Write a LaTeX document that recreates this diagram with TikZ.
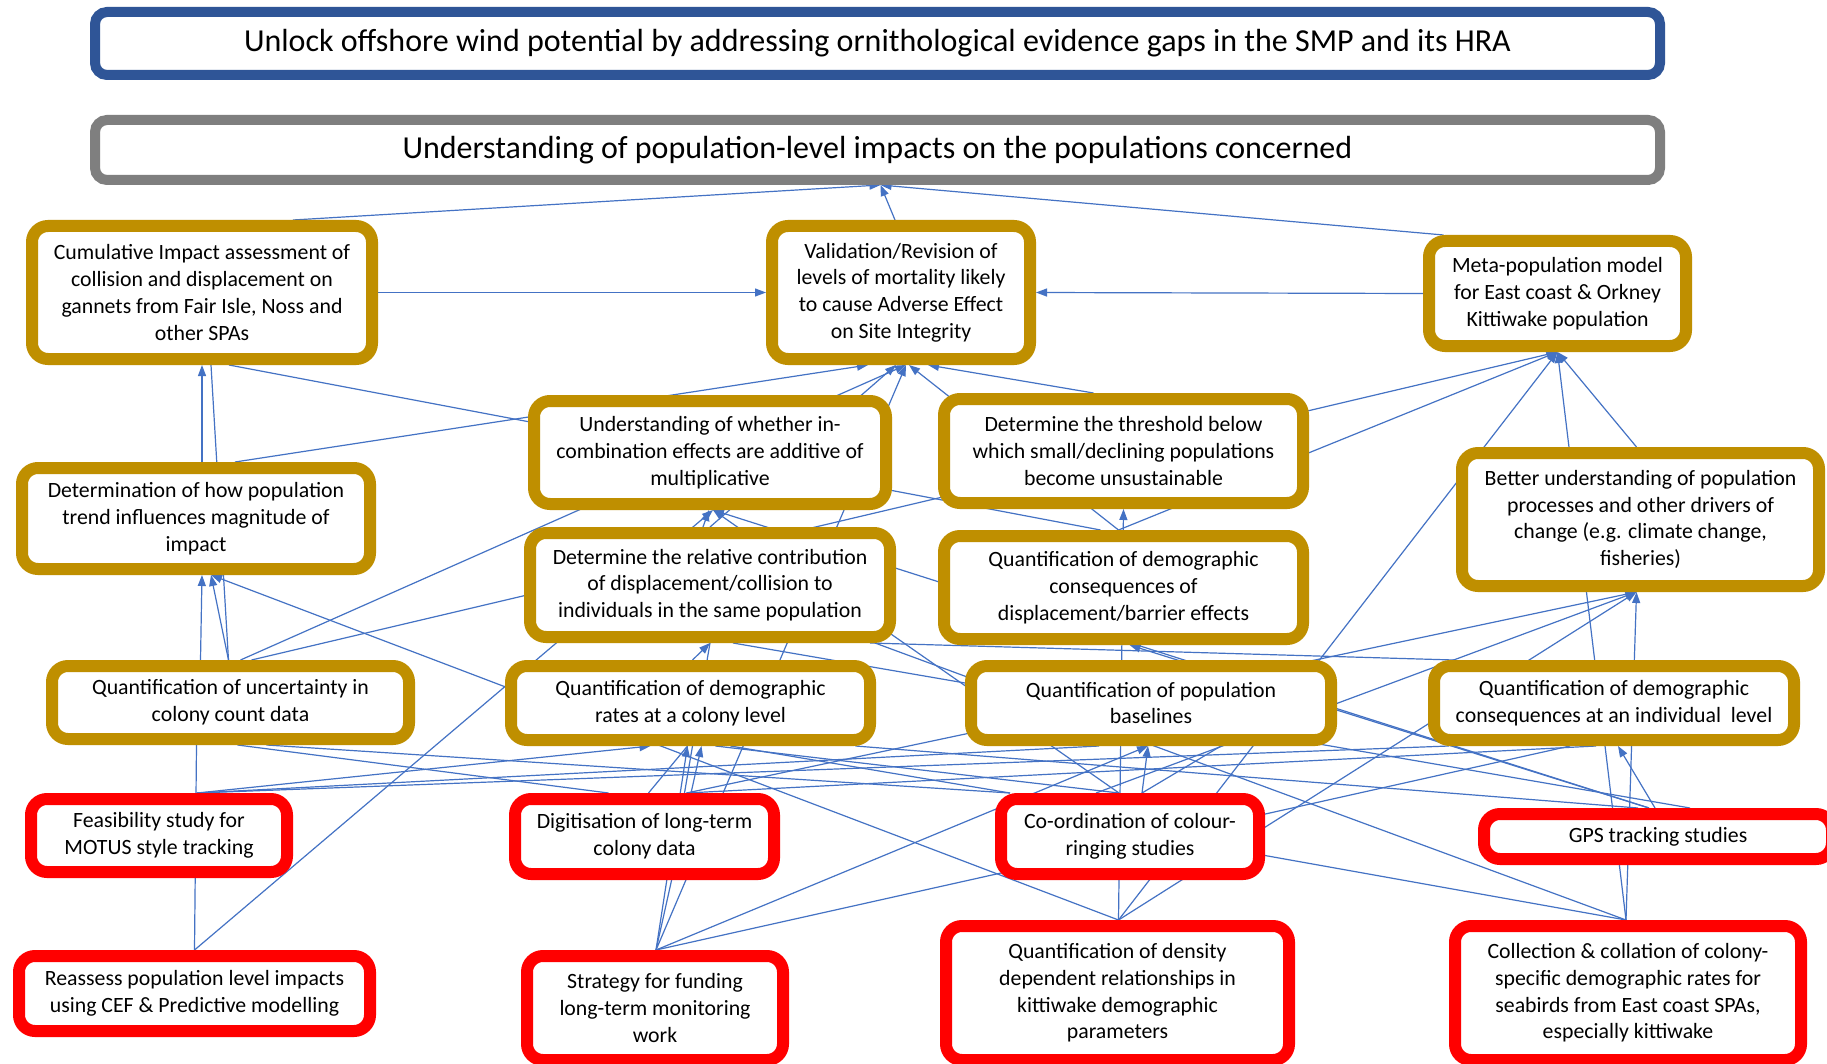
\documentclass[tikz,border=0pt]{standalone}
\usepackage{fontspec}
\setmainfont{Carlito}
\usetikzlibrary{arrows.meta,backgrounds}
\definecolor{goldc}{HTML}{BF8F00}
\definecolor{redc}{HTML}{FF0000}
\definecolor{bluec}{HTML}{2F5597}
\definecolor{grayc}{HTML}{7F7F7F}
\definecolor{linec}{HTML}{4472C4}
\begin{document}
\begin{tikzpicture}[x=1pt,y=-1pt,
  box/.style={draw, rounded corners=16pt, fill=white, align=center, inner sep=0pt, text=black, font=\fontsize{21.8}{26.7}\selectfont},
  goldbox/.style={box, draw=goldc, line width=12pt},
  redbox/.style={box, draw=redc, line width=12pt},
  titlebox/.style={box, line width=10pt, rounded corners=12pt, font=\fontsize{32}{36}\selectfont},
  con/.style={draw=linec, line width=1.2pt},
  arr/.style={con, -{Triangle[length=11pt,width=8pt]}},
]
\useasboundingbox (0,0) rectangle (1827,1064);
\clip (0,0) rectangle (1827,1064);

% titles
\node[titlebox, draw=bluec, minimum width=1565pt, minimum height=63pt] (top) at (877.5,43.5)
  {Unlock offshore wind potential by addressing ornithological evidence gaps in the SMP and its HRA};
\node[titlebox, draw=grayc, minimum width=1565pt, minimum height=60pt] (gray) at (877.5,150)
  {Understanding of population-level impacts on the populations concerned};

% gold boxes
\node[goldbox, minimum width=340pt, minimum height=133pt] (cia) at (202,292.5)
  {Cumulative Impact assessment of\\collision and displacement on\\gannets from Fair Isle, Noss and\\other SPAs};
\node[goldbox, minimum width=258pt, minimum height=133pt] (val) at (901,292.5)
  {Validation/Revision of\\levels of mortality likely\\to cause Adverse Effect\\on Site Integrity};
\node[goldbox, minimum width=257pt, minimum height=105pt] (meta) at (1557.5,293.5)
  {Meta-population model\\for East coast \& Orkney\\Kittiwake population};
\node[goldbox, minimum width=352pt, minimum height=103pt] (incomb) at (710,452.5)
  {Understanding of whether in-\\combination effects are additive of\\multiplicative};
\node[goldbox, minimum width=359pt, minimum height=104pt] (thresh) at (1123.5,451)
  {Determine the threshold below\\which small/declining populations\\become unsustainable};
\node[goldbox, minimum width=348pt, minimum height=101pt] (trend) at (196,518.5)
  {Determination of how population\\trend influences magnitude of\\impact};
\node[goldbox, minimum width=357pt, minimum height=133pt] (better) at (1640.5,519.5)
  {Better understanding of population\\processes and other drivers of\\change (e.g. climate change,\\fisheries)};
\node[goldbox, minimum width=360pt, minimum height=104pt] (relcon) at (710,585)
  {Determine the relative contribution\\of displacement/collision to\\individuals in the same population};
\node[goldbox, minimum width=359pt, minimum height=103pt] (displ) at (1123.5,587.5)
  {Quantification of demographic\\consequences of\\displacement/barrier effects};
\node[goldbox, minimum width=357pt, minimum height=73pt] (uncert) at (230.5,702.5)
  {Quantification of uncertainty in\\colony count data};
\node[goldbox, minimum width=359pt, minimum height=74pt] (demrate) at (690.5,703)
  {Quantification of demographic\\rates at a colony level};
\node[goldbox, minimum width=360pt, minimum height=74pt] (base) at (1151,703)
  {Quantification of population\\baselines};
\node[goldbox, minimum width=360pt, minimum height=74pt] (indiv) at (1614,703)
  {Quantification of demographic\\consequences at an individual~ level};

% red boxes
\node[redbox, minimum width=256pt, minimum height=73pt] (motus) at (159,835.5)
  {Feasibility study for\\MOTUS style tracking};
\node[redbox, minimum width=259pt, minimum height=75pt] (digit) at (644.5,836.5)
  {Digitisation of long-term\\colony data};
\node[redbox, minimum width=258pt, minimum height=75pt] (ring) at (1130,836.5)
  {Co-ordination of colour-\\ringing studies};
\node[redbox, minimum width=348pt, minimum height=45pt] (gps) at (1658,836.5)
  {GPS tracking studies};
\node[redbox, minimum width=351pt, minimum height=75pt] (reass) at (194.5,993.5)
  {Reassess population level impacts\\using CEF \& Predictive modelling};
\node[redbox, minimum width=256pt, minimum height=104pt] (strat) at (655,1008)
  {Strategy for funding\\long-term monitoring\\work};
\node[redbox, minimum width=343pt, minimum height=134pt] (dens) at (1117.5,993)
  {Quantification of density\\dependent relationships in\\kittiwake demographic\\parameters};
\node[redbox, minimum width=346pt, minimum height=134pt] (coll) at (1628,993)
  {Collection \& collation of colony-\\specific demographic rates for\\seabirds from East coast SPAs,\\especially kittiwake};

% arrow targets and shared source points
\coordinate (grayB) at ([xshift=3pt]gray.south);
\coordinate (valB1) at ([xshift=-5pt]val.south);
\coordinate (valB2) at ([xshift=5pt]val.south);
\coordinate (metaB) at (meta.south);
\coordinate (incB) at ([xshift=3pt]incomb.south);
\coordinate (threshB) at (thresh.south);
\coordinate (displB) at ([xshift=6pt]displ.south);
\coordinate (relB) at (relcon.south);
\coordinate (demB) at ([xshift=-3pt]demrate.south);
\coordinate (baseB) at ([xshift=-3pt]base.south);
\coordinate (betterB) at ([xshift=-4pt]better.south);
\coordinate (indivB) at ([xshift=4pt]indiv.south);
\coordinate (trendB) at ([xshift=6pt]trend.south);
\coordinate (densT) at ([xshift=1pt]dens.north);
\coordinate (collT) at ([xshift=-2pt]coll.north);
\coordinate (stratT) at ([xshift=1pt]strat.north);
\coordinate (ringT) at ([xshift=-11pt]ring.north);

\begin{scope}[on background layer]
\fill[white] (0,0) rectangle (1827,1064);
\draw[arr] ([xshift=91pt]cia.north) -- (grayB);
\draw[arr] ([xshift=-6pt]val.north) -- (grayB);
\draw[arr] ([xshift=-114pt]meta.north) -- (grayB);
\draw[arr] (cia.east) -- (val.west);
\draw[arr] (meta.west) -- (val.east);
\draw[arr] ([xshift=39pt]trend.north) -- ([xshift=-33pt]val.south);
\draw[arr] ([xshift=10pt]uncert.north) -- (valB2);
\draw[arr] (relcon.north) -- (valB1);
\draw[arr] (stratT) -- (valB2);
\draw[arr] ([xshift=-5pt]displ.north) -- ([xshift=8pt]val.south);
\draw[arr] ([xshift=-30pt]thresh.north) -- ([xshift=27pt]val.south);
\draw[arr] ([xshift=21pt]uncert.north) -- (metaB);
\draw[arr] ([xshift=-5pt]displ.north) -- (metaB);
\draw[arr] (densT) -- (metaB);
\draw[arr] (collT) -- (metaB);
\draw[arr] ([xshift=-4pt]better.north) -- (metaB);
\draw[arr] ([xshift=6pt]trend.north) -- (cia.south);
\draw[con] ([xshift=-2pt]uncert.north) -- ([xshift=9pt]cia.south);
\draw[con] ([xshift=-23pt]displ.north) -- ([xshift=27pt]cia.south);
\draw[arr] ([xshift=-30pt]uncert.north) -- (trendB);
\draw[arr] ([xshift=-2pt]uncert.north) -- ([xshift=15pt]trend.south);
\draw[arr] (densT) -- ([xshift=15pt]trend.south);
\draw[arr] ([xshift=-7pt]relcon.north) -- ([xshift=-1pt]incomb.south);
\draw[arr] (ringT) -- (incB);
\draw[arr] ([xshift=-9pt]gps.north) -- (incB);
\draw[arr] (reass.north) -- (incB);
\draw[arr] (densT) -- (threshB);
\draw[arr] ([xshift=-9pt]gps.north) -- (displB);
\draw[arr] ([xshift=2pt]demrate.north) -- (relB);
\draw[con] ([xshift=40pt]digit.north) -- (relB);
\draw[con] (collT) -- ([xshift=165pt]relcon.south);
\draw[con] ([xshift=32pt]gps.north) -- ([xshift=23pt]relcon.south);
\draw[con] ([xshift=-160pt]indiv.north) -- ([xshift=160pt]relcon.south);
\draw[arr] (stratT) -- (demB);
\draw[arr] (stratT) -- ([xshift=11pt]demrate.south);
\draw[con] ([xshift=4pt]digit.north) -- (demB);
\draw[con] (ringT) -- ([xshift=25pt]demrate.south);
\draw[con] ([xshift=-120pt]ring.north) -- ([xshift=40pt]demrate.south);
\draw[arr] ([xshift=38pt]motus.north) -- ([xshift=-40pt]demrate.south);
\draw[con] ([xshift=38pt]motus.north) -- ([xshift=-52pt]base.south);
\draw[con] ([xshift=38pt]motus.north) -- ([xshift=-165pt]indiv.south);
\draw[con] ([xshift=-20pt]gps.north) -- ([xshift=165pt]demrate.south);
\draw[arr] (stratT) -- (baseB);
\draw[arr] ([xshift=12pt]ring.north) -- (baseB);
\draw[con] ([xshift=12pt]ring.north) -- ([xshift=70pt]base.south);
\draw[arr] ([xshift=-34pt]ring.north) -- (betterB);
\draw[arr] ([xshift=42pt]digit.north) -- (betterB);
\draw[arr] (densT) -- (betterB);
\draw[arr] (collT) -- (betterB);
\draw[arr] ([xshift=-3pt]gps.north) -- (indivB);
\draw[con] (stratT) -- ([xshift=-44pt]indiv.south);
\draw[con] ([xshift=42pt]digit.north) -- ([xshift=-18pt]indiv.south);
\draw[con] (reass.north) -- ([xshift=-34pt]uncert.south);
\draw[con] ([xshift=-36pt]digit.north) -- ([xshift=7pt]uncert.south);
\draw[con] ([xshift=-120pt]ring.north) -- ([xshift=36pt]uncert.south);
\draw[con] ([yshift=-19pt]ring.east) -- (collT);
\end{scope}
\end{tikzpicture}
\end{document}
